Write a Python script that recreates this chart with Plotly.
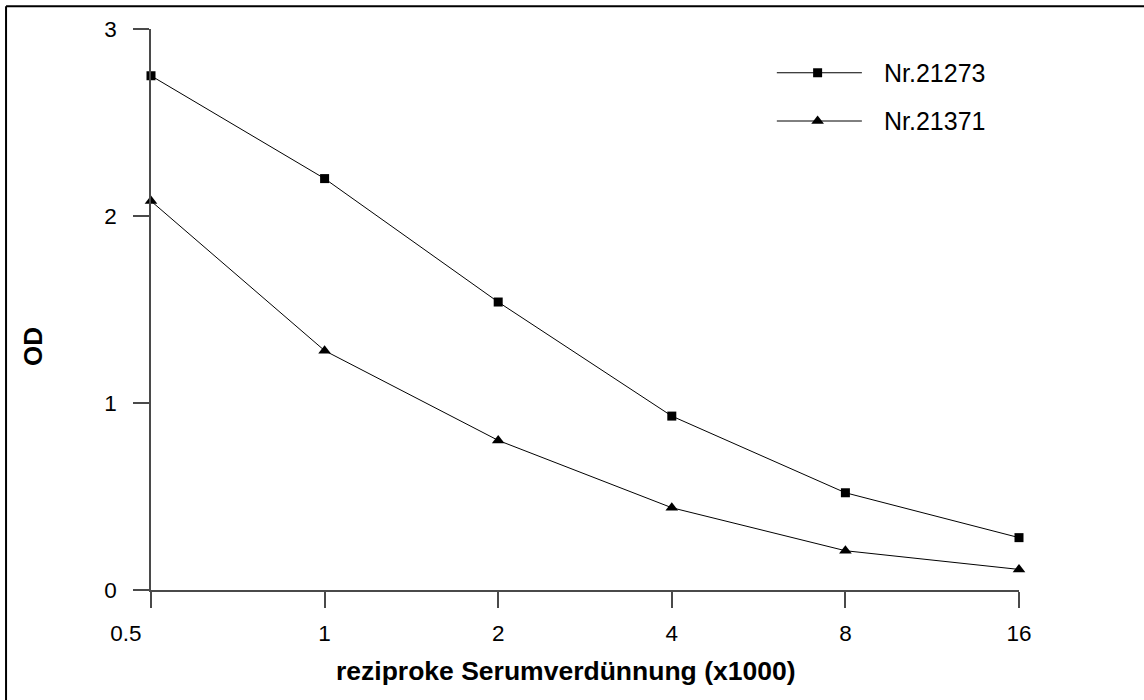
import math
import plotly.graph_objects as go

# Reciprocal serum dilution (x1000) and measured optical density
dilution = [0.5, 1, 2, 4, 8, 16]
od_21273 = [2.75, 2.20, 1.54, 0.93, 0.52, 0.28]
od_21371 = [2.08, 1.28, 0.80, 0.44, 0.21, 0.11]

series_names = ["Nr.21273", "Nr.21371"]
x_tick_vals = [0.5, 1, 2, 4, 8, 16]
x_tick_text = ["0.5\u2007\u2007\u2007\u2007", "1", "2", "4", "8", "16"]
y_tick_vals = [0, 1, 2, 3]

FONT = "Liberation Sans, Arial, sans-serif"
AXIS_COLOR = "#4a4a4a"
symbols = ["square", "triangle-up"]
sizes = [9, 11]

fig = go.Figure()

for name, values, sym, sz in zip(series_names, [od_21273, od_21371], symbols, sizes):
    fig.add_trace(go.Scatter(
        x=dilution, y=values, mode="lines+markers", name=name,
        line=dict(color="black", width=1),
        marker=dict(symbol=sym, size=sz, color="black"),
        cliponaxis=False, showlegend=False,
    ))

# Hand-drawn legend on an overlay axis spanning the plot area
legend_rows = [0.922, 0.836]
for name, yrow, sym, sz in zip(series_names, legend_rows, symbols, sizes):
    fig.add_trace(go.Scatter(
        x=[0.721, 0.819], y=[yrow, yrow],
        xaxis="x2", yaxis="y2", mode="lines",
        line=dict(color="black", width=1),
        showlegend=False, hoverinfo="skip",
    ))
    fig.add_trace(go.Scatter(
        x=[0.768], y=[yrow],
        xaxis="x2", yaxis="y2", mode="markers",
        marker=dict(symbol=sym, size=sz, color="black"),
        showlegend=False, hoverinfo="skip",
    ))
    fig.add_annotation(
        x=0.842, y=yrow, xref="paper", yref="paper",
        text=name, showarrow=False, xanchor="left", yanchor="middle",
        font=dict(family=FONT, size=25, color="black"),
    )

# Axis titles
fig.add_annotation(
    x=0.477, y=-0.145, xref="paper", yref="paper",
    text="<b>reziproke Serumverdünnung (x1000)</b>", showarrow=False,
    xanchor="center", yanchor="middle",
    font=dict(family=FONT, size=26.5, color="black"),
)
fig.add_annotation(
    x=-0.136, y=0.435, xref="paper", yref="paper",
    text="<b>OD</b>", showarrow=False, textangle=-90,
    xanchor="center", yanchor="middle",
    font=dict(family=FONT, size=26, color="black"),
)

# Partial frame: top and left edges of the figure
fig.add_shape(type="line", xref="paper", yref="paper",
              x0=-0.167, x1=1.15, y0=1.0405, y1=1.0405,
              line=dict(color="black", width=2))
fig.add_shape(type="line", xref="paper", yref="paper",
              x0=-0.167, x1=-0.167, y0=1.0405, y1=-0.2,
              line=dict(color="black", width=2))

fig.update_layout(
    width=1144, height=700,
    margin=dict(l=151, r=125, t=29, b=110),
    paper_bgcolor="white", plot_bgcolor="white",
    font=dict(family=FONT, size=22, color="black"),
    xaxis=dict(
        type="log",
        range=[math.log10(dilution[0]), math.log10(dilution[-1])],
        tickvals=x_tick_vals, ticktext=x_tick_text,
        ticks="outside", ticklen=16, tickwidth=1.5, tickcolor=AXIS_COLOR,
        showline=True, linecolor=AXIS_COLOR, linewidth=1.5,
        showgrid=False, zeroline=False,
        tickfont=dict(family=FONT, size=22.5, color="black"),
        ticklabelstandoff=6,
    ),
    yaxis=dict(
        range=[0, 3],
        tickvals=y_tick_vals,
        ticks="outside", ticklen=16, tickwidth=1.5, tickcolor=AXIS_COLOR,
        showline=True, linecolor=AXIS_COLOR, linewidth=1.5,
        showgrid=False, zeroline=False,
        tickfont=dict(family=FONT, size=22.5, color="black"),
        ticklabelstandoff=12,
    ),
    xaxis2=dict(overlaying="x", range=[0, 1], visible=False),
    yaxis2=dict(overlaying="y", range=[0, 1], visible=False),
)

fig.write_html("out.html")
